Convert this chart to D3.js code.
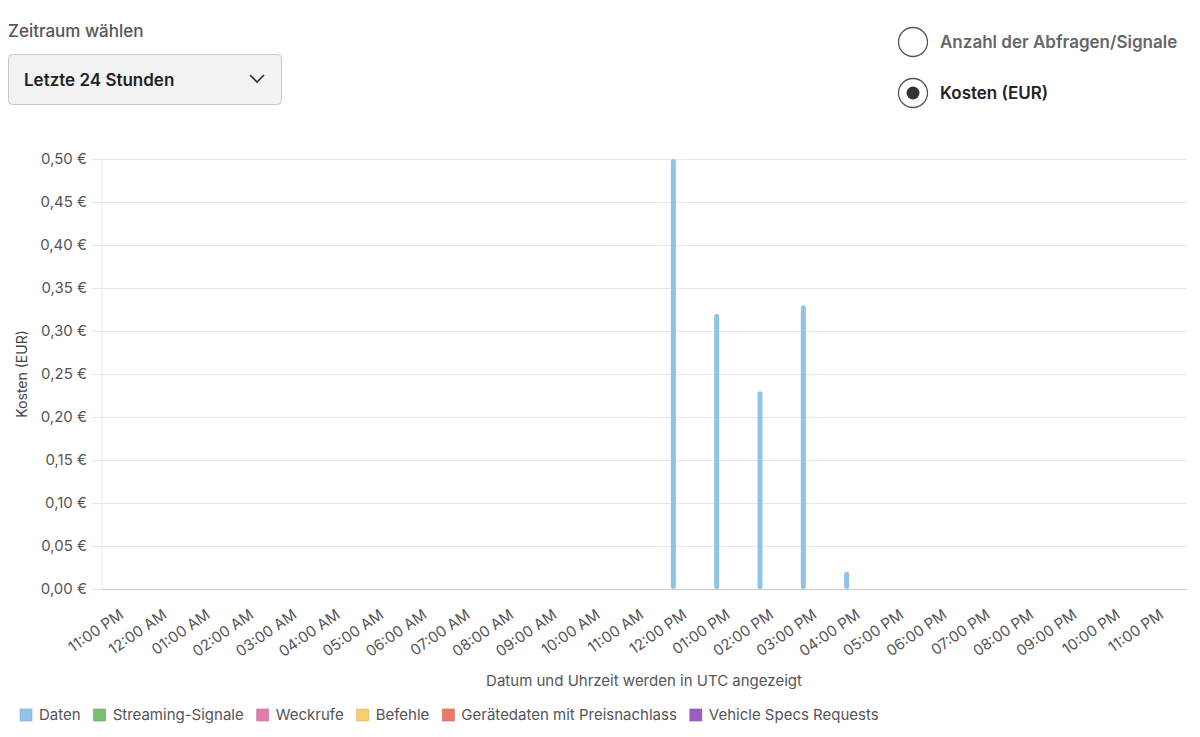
<!DOCTYPE html>
<html>
<head>
<meta charset="utf-8">
<script src="https://cdn.jsdelivr.net/npm/d3@7"></script>
<style>
  body { margin: 0; background: #fff; font-family: Inter, Lato, sans-serif; }
  svg { display: block; }
</style>
</head>
<body>
<div id="chart-area"></div>
<script>
const svgWidth = 1200;
const svgHeight = 737;

// hourly buckets (UTC)
var timeLabels = ["11:00 PM","12:00 AM","01:00 AM","02:00 AM","03:00 AM","04:00 AM","05:00 AM",
    "06:00 AM","07:00 AM","08:00 AM","09:00 AM","10:00 AM","11:00 AM","12:00 PM","01:00 PM",
    "02:00 PM","03:00 PM","04:00 PM","05:00 PM","06:00 PM","07:00 PM","08:00 PM","09:00 PM",
    "10:00 PM","11:00 PM"];
var costData = [0,0,0,0,0,0,0,0,0,0,0,0,0,0.50,0.32,0.23,0.33,0.02,0,0,0,0,0,0,0];
var yTicks = [0,0.05,0.10,0.15,0.20,0.25,0.30,0.35,0.40,0.45,0.50];

var legendNames = ["Daten","Streaming-Signale","Weckrufe","Befehle","Gerätedaten mit Preisnachlass","Vehicle Specs Requests"];
var legendColors = ["#8fc4ea","#78c06f","#e07cb1","#f6cf6e","#e9796b","#9b5dc5"];

var radioLabels = ["Anzahl der Abfragen/Signale","Kosten (EUR)"];
var selectedRadio = 1;

var plot = {left:102, right:1187, top:159, bottom:589};

// bar table built from the arrays above
var bars = costData.map(function(v, i){ return {idx:i, label:timeLabels[i], value:v}; })
    .filter(function(d){ return d.value > 0; });

var svg = d3.select("#chart-area")
    .append("svg")
        .attr("width", svgWidth)
        .attr("height", svgHeight);

// ---- controls on top ----
svg.append("text")
    .attr("x", 8).attr("y", 37)
    .attr("font-size", "17px")
    .attr("font-weight", 500)
    .attr("fill", "#555")
    .text("Zeitraum wählen");

svg.append("rect")
    .attr("x", 8.5).attr("y", 54.5)
    .attr("width", 273).attr("height", 50)
    .attr("rx", 4)
    .attr("fill", "#f2f2f2")
    .attr("stroke", "#c8c8c8");

svg.append("text")
    .attr("x", 24).attr("y", 86)
    .attr("font-size", "17px")
    .attr("font-weight", 600)
    .attr("fill", "#222")
    .text("Letzte 24 Stunden");

svg.append("path")
    .attr("d", "M250,75 L257,82 L264,75")
    .attr("fill", "none")
    .attr("stroke", "#333")
    .attr("stroke-width", 1.6);

var radios = svg.selectAll(".radio")
    .data(radioLabels)
    .enter().append("g")
    .attr("class", "radio")
    .attr("transform", function(d, i){ return "translate(913," + (42 + i*51) + ")"; });

radios.append("circle")
    .attr("r", 14.5)
    .attr("fill", "#fff")
    .attr("stroke", "#555")
    .attr("stroke-width", 1.3);

radios.filter(function(d, i){ return i == selectedRadio; })
    .append("circle")
    .attr("r", 6.5)
    .attr("fill", "#333");

radios.append("text")
    .attr("x", 27).attr("y", 6)
    .attr("font-size", "17px")
    .attr("font-weight", 600)
    .attr("fill", function(d, i){ return i == selectedRadio ? "#222" : "#666"; })
    .text(function(d){ return d; });

// ---- scales ----
var x = d3.scaleLinear()
    .domain([0, timeLabels.length - 1])
    .range([110, 1150]);

var y = d3.scaleLinear()
    .domain([0, 0.5])
    .range([plot.bottom, plot.top]);

// gridlines + y labels
var yAxisCall = d3.axisLeft(y)
    .tickValues(yTicks)
    .tickSize(-(plot.right - plot.left) - 10)
    .tickPadding(5)
    .tickFormat(function(d){ return d3.format(".2f")(d).replace(".", ",") + " €"; });

var yAxis = svg.append("g")
    .attr("transform", "translate(" + (plot.left - 10) + ",0)")
    .call(yAxisCall);
yAxis.select(".domain").remove();
yAxis.selectAll("line").attr("stroke", "#e6e6e6");
yAxis.selectAll("text")
    .attr("font-family", "Inter, sans-serif")
    .attr("font-size", "15px")
    .attr("fill", "#555");

// vertical axis line
svg.append("line")
    .attr("x1", plot.left).attr("x2", plot.left)
    .attr("y1", plot.top).attr("y2", plot.bottom)
    .attr("stroke", "#e6e6e6");

// x axis
var xAxisCall = d3.axisBottom(x)
    .tickValues(d3.range(timeLabels.length))
    .tickSize(0)
    .tickFormat(function(i){ return timeLabels[i]; });

var xAxis = svg.append("g")
    .attr("transform", "translate(0," + plot.bottom + ")")
    .call(xAxisCall);
xAxis.select(".domain").remove();
xAxis.selectAll("text")
    .attr("font-family", "Inter, sans-serif")
    .attr("font-size", "15px")
    .attr("fill", "#555")
    .attr("text-anchor", "end")
    .attr("dy", null)
    .attr("y", 0)
    .attr("transform", "translate(14,28) rotate(-35)");

svg.append("line")
    .attr("x1", plot.left).attr("x2", plot.right)
    .attr("y1", plot.bottom + 0.5).attr("y2", plot.bottom + 0.5)
    .attr("stroke", "#c8c8c8");

// bars
svg.selectAll(".bar")
    .data(bars)
    .enter().append("rect")
    .attr("class", "bar")
    .attr("x", function(d){ return x(d.idx) - 2.5; })
    .attr("y", function(d){ return y(d.value); })
    .attr("width", 5)
    .attr("height", function(d){ return plot.bottom - y(d.value); })
    .attr("rx", 2.5)
    .attr("fill", legendColors[0]);

// axis titles
svg.append("text")
    .attr("transform", "translate(27," + ((plot.top + plot.bottom)/2) + ") rotate(-90)")
    .attr("text-anchor", "middle")
    .attr("font-size", "14px")
    .attr("fill", "#444")
    .text("Kosten (EUR)");

svg.append("text")
    .attr("x", 644).attr("y", 686)
    .attr("text-anchor", "middle")
    .attr("font-size", "15px")
    .attr("fill", "#555")
    .text("Datum und Uhrzeit werden in UTC angezeigt");

// legend
var lx = 20;
legendNames.forEach(function(name, i){
    var g = svg.append("g").attr("transform", "translate(" + lx + ",709)");
    g.append("rect")
        .attr("width", 12).attr("height", 12)
        .attr("fill", legendColors[i])
        .attr("stroke", d3.color(legendColors[i]).darker(0.4))
        .attr("stroke-width", 0.6);
    var t = g.append("text")
        .attr("x", 19).attr("y", 11)
        .attr("font-size", "15px")
        .attr("fill", "#555")
        .text(name);
    lx += 19 + t.node().getComputedTextLength() + 13;
});
</script>
</body>
</html>
